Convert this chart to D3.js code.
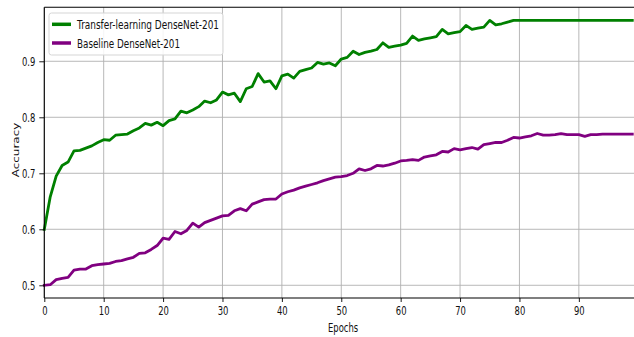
<!DOCTYPE html>
<html><head><meta charset="utf-8">
<script src="https://cdn.jsdelivr.net/npm/d3@7"></script>
<style>html,body{margin:0;padding:0;background:#fff;}svg{display:block;font-family:"DejaVu Sans",sans-serif;}</style>
</head><body>
<svg id="c" width="634" height="337"></svg>
<script>
const epochs = d3.range(0, 100);
const transferAcc = [
0.600,0.658,0.695,0.714,0.720,0.740,0.741,0.745,0.749,0.755,
0.760,0.759,0.768,0.769,0.770,0.776,0.781,0.789,0.786,0.791,
0.785,0.794,0.797,0.811,0.808,0.813,0.819,0.829,0.826,0.831,
0.845,0.840,0.843,0.828,0.851,0.855,0.878,0.863,0.865,0.851,
0.874,0.877,0.870,0.882,0.885,0.888,0.898,0.895,0.897,0.892,
0.904,0.907,0.918,0.912,0.916,0.918,0.921,0.933,0.925,0.927,
0.929,0.932,0.945,0.9375,0.940,0.942,0.944,0.957,0.949,0.951,
0.953,0.964,0.957,0.959,0.961,0.973,0.965,0.967,0.970,0.973,
0.973,0.973,0.973,0.973,0.973,0.973,0.973,0.973,0.973,0.973,
0.973,0.973,0.973,0.973,0.973,0.973,0.973,0.973,0.973,0.973];
const baselineAcc = [
0.500,0.501,0.510,0.5125,0.514,0.527,0.529,0.529,0.535,0.537,
0.538,0.539,0.5425,0.544,0.547,0.550,0.557,0.558,0.564,0.571,
0.584,0.582,0.596,0.592,0.598,0.611,0.604,0.612,0.616,0.620,
0.624,0.625,0.633,0.637,0.633,0.645,0.649,0.653,0.654,0.654,
0.663,0.667,0.670,0.674,0.677,0.680,0.683,0.687,0.690,0.693,
0.694,0.696,0.700,0.708,0.705,0.708,0.714,0.713,0.715,0.718,
0.722,0.723,0.7245,0.723,0.729,0.731,0.733,0.739,0.738,0.744,
0.742,0.744,0.746,0.743,0.751,0.753,0.755,0.755,0.759,0.764,
0.763,0.765,0.767,0.771,0.768,0.768,0.769,0.771,0.769,0.769,
0.769,0.766,0.769,0.769,0.770,0.770,0.770,0.770,0.770,0.770];
const seriesNames = ["Transfer-learning DenseNet-201", "Baseline DenseNet-201"];
const seriesColors = ["#008000", "#800080"];
const xTicks = [0,10,20,30,40,50,60,70,80,90];
const yTicks = [0.5,0.6,0.7,0.8,0.9];
const xLabel = "Epochs", yLabel = "Accuracy";

const svg = d3.select("#c");
const L = 44.3, R = 632.3, T = 7.3, B = 298;
const x = d3.scaleLinear().domain([0, 99]).range([L, R]);
const y = d3.scaleLinear().domain([0.4773, 0.9964]).range([B, T]);
const SQ = 0.7;
function squish(sel){ sel.each(function(){ const w=this.getComputedTextLength(); d3.select(this).attr("textLength", w*SQ).attr("lengthAdjust","spacingAndGlyphs"); }); }

// grid
svg.append("g").selectAll("line").data(xTicks).join("line")
  .attr("x1", d=>x(d)).attr("x2", d=>x(d)).attr("y1", T).attr("y2", B)
  .attr("stroke", "#b0b0b0").attr("stroke-width", 0.9);
svg.append("g").selectAll("line").data(yTicks).join("line")
  .attr("x1", L).attr("x2", 634).attr("y1", d=>y(d)).attr("y2", d=>y(d))
  .attr("stroke", "#b0b0b0").attr("stroke-width", 0.9);

// lines
const line = d3.line().x((d,i)=>x(epochs[i])).y(d=>y(d));
[transferAcc, baselineAcc].forEach((s, k) => {
  svg.append("path").datum(s).attr("d", line).attr("fill","none")
    .attr("stroke", seriesColors[k]).attr("stroke-width", 2.8)
    .attr("stroke-linejoin","round").attr("stroke-linecap","square");
});

// axes
const xa = svg.append("g").attr("transform", `translate(0,${B})`)
  .call(d3.axisBottom(x).tickValues(xTicks).tickFormat(d3.format("d")).tickSize(4).tickPadding(4));
const ya = svg.append("g").attr("transform", `translate(${L},0)`)
  .call(d3.axisLeft(y).tickValues(yTicks).tickFormat(d3.format(".1f")).tickSize(5).tickPadding(4));
[xa, ya].forEach(a => {
  a.select(".domain").remove();
  a.selectAll("line").attr("stroke", "#000").attr("stroke-width", 0.9);
  a.selectAll("text").attr("font-size", 12).attr("fill", "#111").attr("font-family", "DejaVu Sans");
});
squish(xa.selectAll("text")); squish(ya.selectAll("text"));

// spines
svg.append("line").attr("x1", L).attr("x2", L).attr("y1", T).attr("y2", B).attr("stroke","#000").attr("stroke-width",1.1);
svg.append("line").attr("x1", L).attr("x2", 634).attr("y1", B).attr("y2", B).attr("stroke","#000").attr("stroke-width",1.1);
svg.append("line").attr("x1", L).attr("x2", 634).attr("y1", T).attr("y2", T).attr("stroke","#000").attr("stroke-width",1.1);

// axis labels
const xl = svg.append("text").attr("x", x(50.3)).attr("y", 332).attr("text-anchor","middle")
  .attr("font-size", 12).attr("fill","#111").text(xLabel);
squish(xl);
svg.append("g").attr("transform", `translate(19,150) scale(${SQ},1) rotate(-90)`)
  .append("text").attr("text-anchor","middle").attr("font-size", 12).attr("fill","#111").text(yLabel);

// legend
const lg = svg.append("g");
lg.append("rect").attr("x", 49).attr("y", 13).attr("width", 174).attr("height", 42)
  .attr("rx", 2.5).attr("fill", "#fff").attr("fill-opacity", 0.85).attr("stroke", "#d5d5d5").attr("stroke-width", 1);
const legendWidths = [142, 103];
seriesNames.forEach((n, k) => {
  const yy = k === 0 ? 24.3 : 43;
  lg.append("line").attr("x1", 52).attr("x2", 71).attr("y1", yy).attr("y2", yy)
    .attr("stroke", seriesColors[k]).attr("stroke-width", 3.5);
  lg.append("text").attr("x", 77).attr("y", yy + 4.5).attr("font-size", 12.5).attr("fill","#111")
    .attr("textLength", legendWidths[k]).attr("lengthAdjust","spacingAndGlyphs").text(n);
});
</script>
</body></html>
